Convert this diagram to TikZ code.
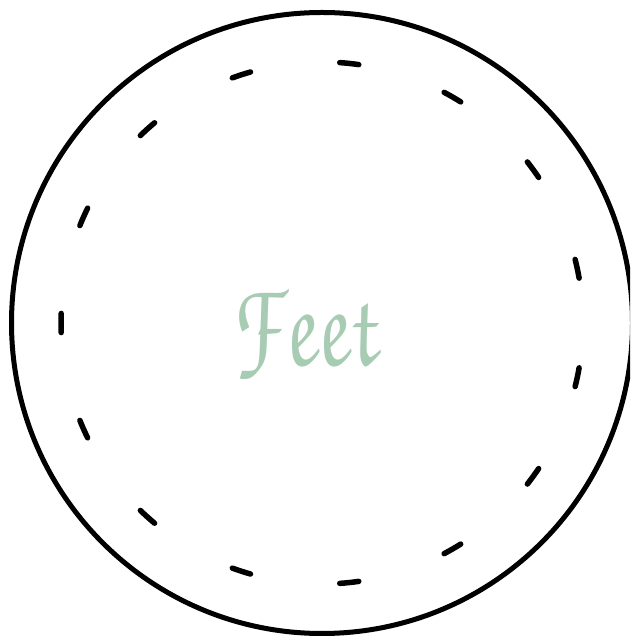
\documentclass[tikz,border=0pt]{standalone}
\usepackage{tikz}
\usetikzlibrary{calc}
\definecolor{feetgreen}{RGB}{168,203,180}
\tikzset{
  outer/.style={line width=5pt, draw=black},
  stitch/.style={line width=5.5pt, draw=black, line cap=round},
  title/.style={text=feetgreen, inner sep=0pt, font=\fontencoding{T1}\fontfamily{pzc}\fontsize{110}{110}\selectfont}
}
\begin{document}
\begin{tikzpicture}[x=1pt,y=1pt]
\useasboundingbox (0,0) rectangle (630,637);
\clip (0,0) rectangle (630,637);
\coordinate (c) at (322,314);
\draw[outer] (c) circle[radius=310.5];
\foreach \a in {84,60,36,12,-12,-36,-60,-84,-108,-132,-156,-180,156,132,108} {
  \draw[stitch] ($(c)+(\a-2.1:261)$) arc[start angle=\a-2.1, end angle=\a+2.1, radius=261];
}
\node[title, anchor=base, xscale=0.85, yscale=1.12, xslant=-0.2] (t) at (306,271) {Feet};
\end{tikzpicture}
\end{document}
